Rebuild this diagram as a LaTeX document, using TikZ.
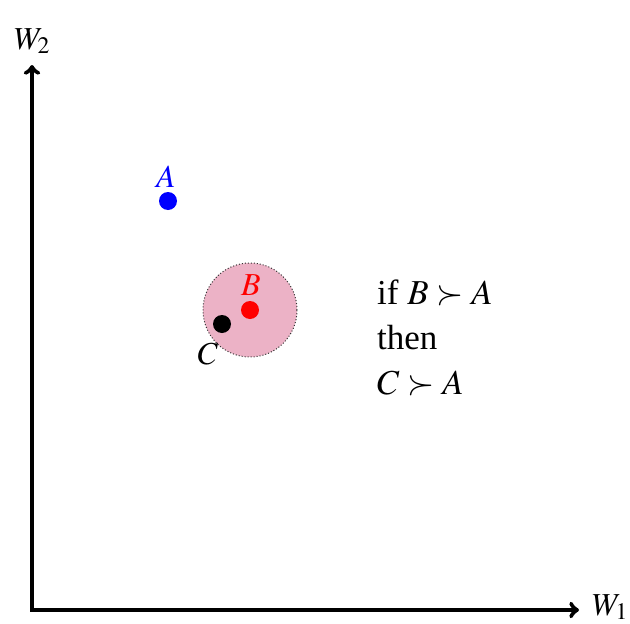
\documentclass[tikz,border=0pt]{standalone}
\usepackage{mathptmx}
\usepackage{fontspec}
\setmainfont{Liberation Serif}
\begin{document}
\begin{tikzpicture}[x=1pt,y=-1pt,
  axis/.style={line width=4.5pt,<->},
  dotA/.style={circle,fill=blue,inner sep=0pt,minimum size=18pt},
  lbl/.style={font=\fontsize{32}{38}\selectfont,inner sep=0pt}]
\useasboundingbox (0,0) rectangle (630,624);
\coordinate (O) at (32,610);
\coordinate (Xend) at (579,610);
\coordinate (Yend) at (32,65);
\draw[axis] (Yend) -- (O) -- (Xend);
\node[lbl,anchor=base west] (w1) at (592,615) {$W_1$};
\node[lbl,anchor=base] (w2) at (32,49) {$W_2$};
\node[circle,fill=purple!30,draw=black!80,dotted,line width=1pt,minimum size=94pt,inner sep=0pt] (reg) at (250,310) {};
\node[dotA] (A) at (168,201) {};
\node[lbl,text=blue,anchor=base] (la) at (166,187) {$A$};
\node[dotA,fill=red] (B) at (250,310) {};
\node[lbl,text=red,anchor=base] (lb) at (251,295) {$B$};
\node[dotA,fill=black] (C) at (222,324) {};
\node[lbl,anchor=base] (lc) at (208,364) {$C$};
\node[lbl,anchor=base west,align=left,font=\fontsize{35}{45}\selectfont] (txt) at (377,394) {if $B\succ A$\\then\\$C\succ A$};
\end{tikzpicture}
\end{document}
